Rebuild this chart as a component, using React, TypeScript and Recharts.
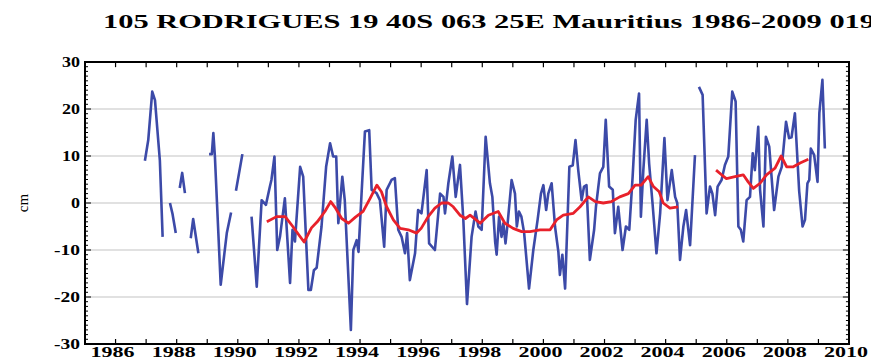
import { LineChart, Line, CartesianGrid, XAxis, YAxis, ReferenceArea, ReferenceLine } from "recharts";

// monthly sea level anomaly, cm (null = gap in the record)
const tideGauge: [number, number | null][] = [
  [1986.96, 9], [1987.07, 13.4], [1987.2, 23.7], [1987.29, 21.9], [1987.45, 9], [1987.54, -7.2],
  [1987.66, null],
  [1987.78, 0], [1987.86, -2.2], [1987.97, -6.4],
  [1988.04, null],
  [1988.1, 3.2], [1988.18, 6.4], [1988.27, 2.1],
  [1988.37, null],
  [1988.46, -7.5], [1988.54, -3.4], [1988.71, -10.7],
  [1988.9, null],
  [1989.06, 10.4], [1989.15, 10.4], [1989.2, 14.9], [1989.25, 10], [1989.44, -17.4],
  [1989.64, -6.4], [1989.78, -2],
  [1989.86, null],
  [1989.94, 2.6], [1990.15, 10.4],
  [1990.3, null],
  [1990.45, -2.9], [1990.62, -17.8], [1990.78, 0.6], [1990.92, -0.4], [1991.05, 3.5], [1991.1, 4.9],
  [1991.2, 9.9], [1991.29, -10], [1991.38, -7.2], [1991.54, 1], [1991.71, -17], [1991.79, -5.7],
  [1991.87, -8.2], [1992.04, 7.7], [1992.14, 5.6], [1992.31, -18.5], [1992.39, -18.5], [1992.49, -14.3],
  [1992.58, -13.8], [1992.74, -5], [1992.89, 7.7], [1993.02, 12.7], [1993.12, 9.9], [1993.22, 9.9],
  [1993.29, -4.3], [1993.42, 5.6], [1993.5, 0.6], [1993.7, -27], [1993.78, -10], [1993.89, -7.9],
  [1993.95, -10.4], [1994.05, 2], [1994.16, 15.2], [1994.3, 15.5], [1994.38, 2.8], [1994.54, 2.1],
  [1994.65, 0.6], [1994.79, -9.3], [1994.87, 2.8], [1995.03, 4.9], [1995.14, 5.3], [1995.25, -5.7],
  [1995.36, -7.2], [1995.47, -10.7], [1995.54, -6.4], [1995.63, -16.4], [1995.8, -10.7], [1995.9, -1.5],
  [1996.01, -2.2], [1996.18, 7], [1996.26, -8.6], [1996.45, -10], [1996.62, 2], [1996.73, 1.3],
  [1996.78, -2.2], [1996.89, 4.2], [1997.02, 9.9], [1997.13, 1.3], [1997.27, 8.1], [1997.38, -3.6],
  [1997.5, -21.5], [1997.65, -7.2], [1997.78, -1.8], [1997.87, -5], [1997.98, -5.7], [1998.11, 14.1],
  [1998.25, 4.2], [1998.33, 1.3], [1998.42, -8.2], [1998.47, -11], [1998.55, -2.9], [1998.63, -7.2],
  [1998.69, -4.3], [1998.76, -8.6], [1998.83, -4.3], [1998.96, 4.9], [1999.07, 2], [1999.13, -5],
  [1999.2, -1.8], [1999.28, -2.9], [1999.37, -6.4], [1999.53, -18.2], [1999.67, -10], [1999.81, -3.6],
  [1999.92, 2], [2000.0, 3.8], [2000.09, -1.5], [2000.16, 2], [2000.27, 4.2], [2000.38, -5],
  [2000.49, -10.4], [2000.54, -15.3], [2000.62, -11], [2000.71, -18.2], [2000.85, 7.7], [2000.96, 8],
  [2001.05, 13.4], [2001.14, 7], [2001.25, 0.6], [2001.33, 3.5], [2001.41, 3.8], [2001.52, -12.1],
  [2001.66, -5.7], [2001.72, -0.8], [2001.85, 6.3], [2001.96, 7.7], [2002.04, 17.7], [2002.15, 3.5],
  [2002.27, 2.8], [2002.34, -6.4], [2002.45, -0.8], [2002.59, -10], [2002.7, -5], [2002.81, -5.7],
  [2002.92, 5.6], [2003.02, 17.7], [2003.13, 23.3], [2003.19, -2.9], [2003.27, 7], [2003.38, 17.7],
  [2003.46, 8.4], [2003.57, 0], [2003.7, -10.7], [2003.82, -2.2], [2003.96, 13.8], [2004.06, 0.6],
  [2004.2, 7], [2004.31, 1.3], [2004.38, 0], [2004.47, -12.1], [2004.58, -5], [2004.67, -1.5],
  [2004.8, -9], [2004.96, 10.2],
  [2005.02, null],
  [2005.09, 24.7], [2005.21, 23], [2005.34, -2.2], [2005.45, 3.5], [2005.53, 2], [2005.62, -2.6],
  [2005.7, 3.5], [2005.83, 4.9], [2005.94, 8.1], [2006.05, 9.9], [2006.18, 23.7], [2006.29, 21.6],
  [2006.38, -5], [2006.46, -5.7], [2006.54, -8.2], [2006.65, 0.6], [2006.76, 1.3], [2006.85, 10.6],
  [2006.92, 7], [2007.03, 16.2], [2007.09, 2.8], [2007.2, -5], [2007.28, 14.1], [2007.39, 12],
  [2007.55, -1.5], [2007.69, 5.6], [2007.8, 7.7], [2007.94, 17.3], [2008.04, 13.8], [2008.12, 14],
  [2008.23, 19.1], [2008.37, 2.5], [2008.48, -5], [2008.56, -3.6], [2008.64, 4.2], [2008.7, 4.9],
  [2008.75, 11.6], [2008.86, 10.2], [2008.97, 4.5], [2009.03, 19.1], [2009.13, 26.2], [2009.21, 11.6],
];

// running mean, cm
const runningMean: [number, number | null][] = [
  [1990.95, -4], [1991.27, -2.9], [1991.55, -2.9], [1991.8, -5], [1992.0, -6.8], [1992.17, -8.3],
  [1992.41, -5.3], [1992.6, -4], [1992.85, -1.8], [1993.04, 0.3], [1993.2, -1.1], [1993.4, -3.3],
  [1993.62, -4.3], [1993.85, -3], [1994.1, -1.8], [1994.33, 1], [1994.55, 3.8], [1994.7, 2.4],
  [1994.87, -0.8], [1995.09, -3.6], [1995.31, -5.4], [1995.58, -5.7], [1995.85, -6.4], [1996.0, -5.4],
  [1996.23, -2.9], [1996.45, -1.1], [1996.67, 0], [1996.89, 0], [1997.05, -0.8], [1997.27, -2.6],
  [1997.45, -3.3], [1997.6, -2.6], [1997.93, -4.3], [1998.2, -2.6], [1998.52, -1.8], [1998.74, -4.3],
  [1999.01, -5.4], [1999.29, -6.1], [1999.56, -6.1], [1999.89, -5.7], [2000.22, -5.7], [2000.43, -3.6],
  [2000.65, -2.6], [2000.98, -2.2], [2001.2, -0.8], [2001.47, 1.3], [2001.7, 0.3], [2001.96, 0],
  [2002.23, 0.3], [2002.5, 1.3], [2002.78, 2], [2003.0, 3.8], [2003.2, 3.8], [2003.43, 5.6],
  [2003.6, 3.5], [2003.79, 2.4], [2003.92, 0], [2004.14, -1.1], [2004.41, -0.8],
  [2005.0, null],
  [2005.65, 7], [2005.83, 6], [2005.99, 5.2], [2006.27, 5.6], [2006.54, 6], [2006.7, 4.5],
  [2006.87, 3.1], [2007.09, 4.2], [2007.3, 6], [2007.58, 7.4], [2007.78, 10], [2007.96, 7.7],
  [2008.18, 7.7], [2008.4, 8.5], [2008.67, 9.3],
];

const yearTicks = Array.from({ length: 26 }, (_, i) => 1985 + i);
const cmTicks = Array.from({ length: 61 }, (_, i) => -30 + i);
const cmGrid = [-20, -10, 0, 10, 20];
const title = "105 RODRIGUES 19 40S 063 25E Mauritius 1986-2009 019";

const monthly = tideGauge.map(([t, v]) => ({ t, v }));
const mean = runningMean.map(([t, v]) => ({ t, v }));

const W = 863;
const TITLE_H = 30;
const CH = 322;
const PLOT = { left: 77, right: 841, top: 24, bottom: 306 };
const serif = "'Liberation Serif', 'Times New Roman', serif";

const BottomTick = ({ x, payload }: any) => {
  const year = payload.value;
  return (
    <g>
      <line x1={x} x2={x} y1={PLOT.bottom} y2={PLOT.bottom - 5} stroke="#000" strokeWidth={1.2} />
      {year % 2 === 0 && (
        <text x={x - 3} y={PLOT.bottom + 13} textAnchor="middle" fontFamily={serif} fontWeight="bold"
          fontSize={14} textLength={44} lengthAdjust="spacingAndGlyphs" fill="#000">
          {year}
        </text>
      )}
    </g>
  );
};

const LeftTick = ({ y, payload }: any) => {
  const v = payload.value;
  const major = v % 10 === 0;
  const label = String(v);
  const len = label.replace("-", "").length * 9 + (v < 0 ? 8 : 0);
  return (
    <g>
      <line x1={PLOT.left} x2={PLOT.left + (major ? 6 : 3)} y1={y} y2={y} stroke="#000" strokeWidth={1} />
      {major && (
        <text x={PLOT.left - 5} y={y + 5} textAnchor="end" fontFamily={serif} fontWeight="bold"
          fontSize={15} textLength={len} lengthAdjust="spacingAndGlyphs" fill="#000">
          {label}
        </text>
      )}
    </g>
  );
};

const CmLabel = ({ viewBox }: any) => {
  const cx = (viewBox?.x ?? 0) + 20;
  const cy = (viewBox?.y ?? 0) + (viewBox?.height ?? 0) / 2;
  return (
    <text x={cx} y={cy} transform={`rotate(-90 ${cx} ${cy})`} textAnchor="middle" fontFamily={serif}
      fontSize={15} fill="#000">
      cm
    </text>
  );
};

export default function App() {
  return (
    <div style={{ width: W }}>
      <svg width={871} height={TITLE_H} style={{ display: "block" }}>
        <text x={95} y={20} fontFamily={serif} fontWeight="bold" fontSize={18} textLength={772}
          lengthAdjust="spacingAndGlyphs" fill="#000">
          {title}
        </text>
      </svg>
      <LineChart width={W} height={CH} margin={{ top: PLOT.top, right: W - PLOT.right, bottom: 0, left: 0 }}>
        <CartesianGrid vertical={false} horizontalValues={cmGrid} stroke="#c4c4c4" strokeWidth={1.2} />
        <XAxis dataKey="t" type="number" domain={[1985, 2010]} allowDataOverflow ticks={yearTicks}
          interval={0} height={CH - PLOT.bottom} tick={<BottomTick />} tickLine={false}
          axisLine={{ stroke: "#000", strokeWidth: 2 }} />
        <YAxis type="number" domain={[-30, 30]} allowDataOverflow ticks={cmTicks} interval={0}
          width={PLOT.left} tick={<LeftTick />} tickLine={false} axisLine={{ stroke: "#000", strokeWidth: 2 }}
          label={<CmLabel />} />
        {yearTicks.map((yr) => (
          <ReferenceLine key={`t${yr}`} segment={[{ x: yr, y: 30 }, { x: yr, y: 28.9 }]}
            stroke="#000" strokeWidth={1.2} ifOverflow="visible" />
        ))}
        {cmTicks.map((v) => (
          <ReferenceLine key={`r${v}`} segment={[{ x: 2010, y: v }, { x: v % 10 === 0 ? 2009.8 : 2009.9, y: v }]}
            stroke="#000" strokeWidth={1} ifOverflow="visible" />
        ))}
        <ReferenceArea x1={1985} x2={2010} y1={-30} y2={30} fill="none" stroke="#000" strokeWidth={2}
          ifOverflow="visible" />
        <Line data={monthly} dataKey="v" type="linear" stroke="#3c4aa8" strokeWidth={2.6}
          dot={false} activeDot={false} isAnimationActive={false} strokeLinejoin="round" />
        <Line data={mean} dataKey="v" type="linear" stroke="#e8212b" strokeWidth={2.8}
          dot={false} activeDot={false} isAnimationActive={false} strokeLinejoin="round" />
      </LineChart>
    </div>
  );
}
